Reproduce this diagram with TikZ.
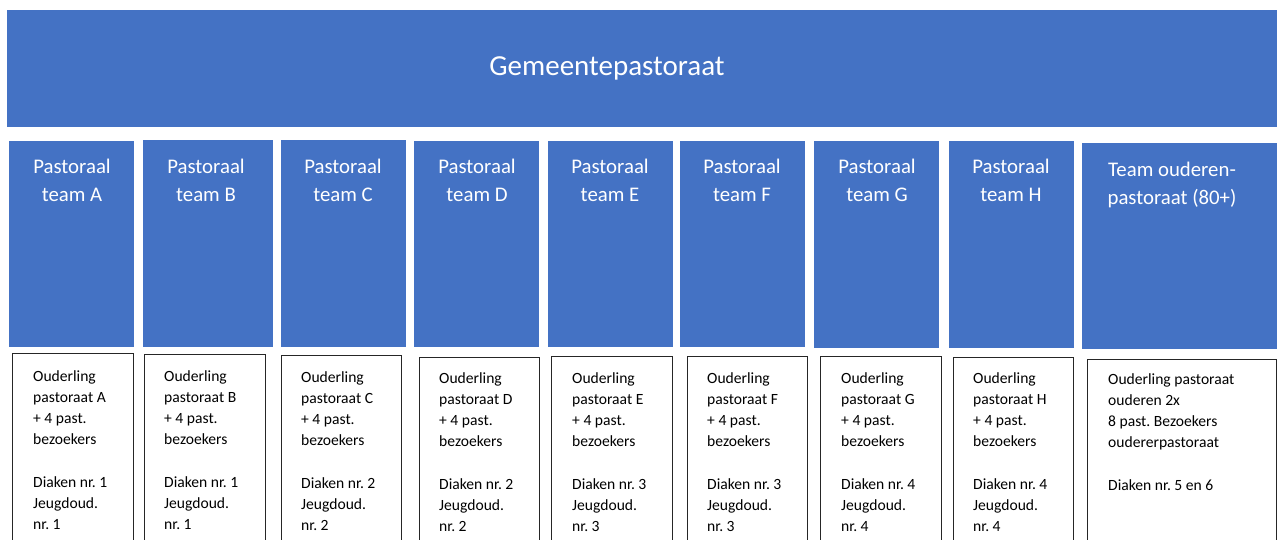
\documentclass[tikz,border=0pt]{standalone}
\usepackage{fontspec}
\setmainfont{Carlito}
\frenchspacing
\definecolor{pblue}{HTML}{4472C4}
\begin{document}
\begin{tikzpicture}[x=1pt,y=-1pt,
 bluebox/.style={fill=pblue,draw=none,anchor=north west,inner sep=0,outer sep=0},
 whitebox/.style={draw=black!85,line width=1pt,fill=white,anchor=north west,inner sep=0,outer sep=0},
 bluetext/.style={text=white,align=center,font=\fontsize{20.8}{28}\selectfont,inner sep=0,anchor=north},
 whitetext/.style={text=black,align=left,font=\fontsize{15.6}{21.2}\selectfont,inner sep=0,anchor=north west}]
\clip (0,0) rectangle (1277,539);
\fill[white] (0,0) rectangle (1277,539);
\node[bluebox,minimum width=1280,minimum height=117] (top) at (7,10) {};
\node[text=white,font=\fontsize{29}{34}\selectfont,inner sep=0] (toptext) at (607,68) {Gemeentepastoraat};
\foreach \l/\xa/\xb/\yt/\yb/\wa/\wb/\wt/\tx/\ty/\cx/\d in {
 A/9/134/141/347/12/133/353/33/370/72/1,
 B/143/273/140/347/144/265/354/164/370/206/1,
 C/281/406/140/347/281/401/355/301/371/343/2,
 D/414/539/141/347/419/539/357/439/372/477/2,
 E/548/673/141/347/551/672/356/572/372/610/3,
 F/680/805/141/347/687/807/356/707/372/742/3,
 G/814/939/141/348/820/941/356/841/372/877/4,
 H/949/1074/141/348/953/1073/357/973/372/1011/4}{
 \pgfmathsetmacro{\bw}{\xb-\xa}
 \pgfmathsetmacro{\bh}{\yb-\yt}
 \pgfmathsetmacro{\ww}{\wb-\wa}
 \node[bluebox,minimum width=\bw,minimum height=\bh] (b\l) at (\xa,\yt) {};
 \node[bluetext] (bt\l) at (\cx,159) {Pastoraal\\team \l};
 \node[whitebox,minimum width=\ww,minimum height=220] (w\l) at (\wa,\wt) {};
 \node[whitetext] (wt\l) at (\tx,\ty) {Ouderling\\pastoraat \l\\+ 4 past.\\bezoekers\\\mbox{}\\Diaken nr. \d\\Jeugdoud.\\nr. \d};
}
\node[bluebox,minimum width=200,minimum height=206] (bO) at (1082,143) {};
\node[bluetext] (btO) at (1172,162) {Team ouderen-\\pastoraat (80+)};
\node[whitebox,minimum width=189.5,minimum height=220] (wO) at (1087,359) {};
\node[whitetext] (wtO) at (1108,373) {Ouderling pastoraat\\ouderen 2x\\8 past. Bezoekers\\oudererpastoraat\\\mbox{}\\Diaken nr. 5 en 6};
\end{tikzpicture}
\end{document}
